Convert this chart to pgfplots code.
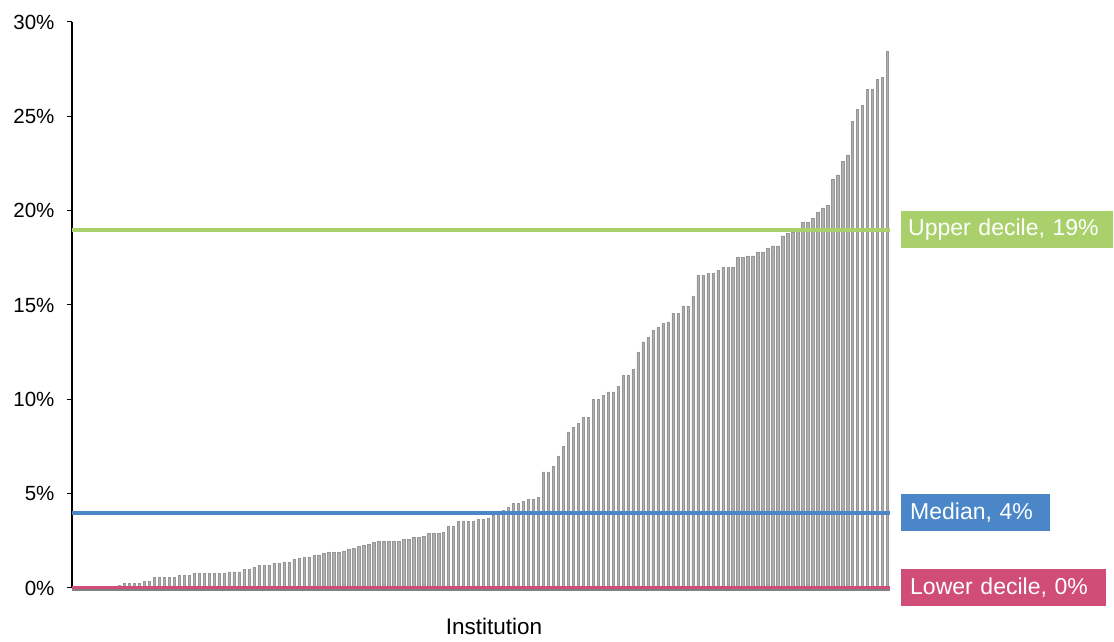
\documentclass[border=0pt]{standalone}
\usepackage{pgfplots}
\pgfplotsset{compat=1.18}
\usepackage{pgfplotstable}
\usepackage{fontspec}
\setmainfont{Liberation Sans}
\definecolor{upper}{RGB}{169,208,107}
\definecolor{med}{RGB}{74,134,200}
\definecolor{lower}{RGB}{208,77,120}
\definecolor{barfill}{RGB}{175,175,175}
\definecolor{baredge}{RGB}{150,150,150}
\definecolor{axgray}{RGB}{128,128,128}
\pgfplotstableread{
x y
1 0
2 0
3 0
4 0
5 0
6 0
7 0
8 0
9 0
10 0.12
11 0.23
12 0.23
13 0.23
14 0.23
15 0.34
16 0.34
17 0.55
18 0.55
19 0.55
20 0.55
21 0.55
22 0.65
23 0.65
24 0.65
25 0.76
26 0.76
27 0.76
28 0.76
29 0.76
30 0.76
31 0.76
32 0.86
33 0.86
34 0.86
35 0.97
36 0.97
37 1.08
38 1.18
39 1.18
40 1.18
41 1.31
42 1.31
43 1.39
44 1.39
45 1.52
46 1.56
47 1.61
48 1.65
49 1.72
50 1.76
51 1.82
52 1.88
53 1.92
54 1.92
55 1.96
56 2.03
57 2.10
58 2.20
59 2.25
60 2.30
61 2.40
62 2.47
63 2.47
64 2.47
65 2.47
66 2.47
67 2.58
68 2.58
69 2.68
70 2.68
71 2.72
72 2.88
73 2.88
74 2.88
75 2.98
76 3.29
77 3.29
78 3.52
79 3.52
80 3.52
81 3.52
82 3.62
83 3.64
84 3.72
85 3.83
86 3.96
87 4.10
88 4.27
89 4.48
90 4.48
91 4.58
92 4.70
93 4.70
94 4.80
95 6.16
96 6.16
97 6.47
98 7.00
99 7.52
100 8.28
101 8.50
102 8.72
103 9.03
104 9.03
105 9.98
106 9.98
107 10.21
108 10.40
109 10.40
110 10.70
111 11.25
112 11.25
113 11.59
114 12.52
115 13.05
116 13.27
117 13.67
118 13.80
119 14.03
120 14.11
121 14.56
122 14.56
123 14.96
124 14.96
125 15.49
126 16.57
127 16.57
128 16.66
129 16.66
130 16.85
131 17.00
132 17.00
133 17.00
134 17.52
135 17.52
136 17.61
137 17.61
138 17.82
139 17.82
140 18.03
141 18.14
142 18.14
143 18.67
144 18.80
145 18.88
146 19.09
147 19.41
148 19.41
149 19.62
150 19.94
151 20.15
152 20.28
153 21.67
154 21.90
155 22.60
156 22.96
157 24.75
158 25.37
159 25.58
160 26.43
161 26.43
162 26.96
163 27.06
164 28.43
}\rates

\begin{document}
\begin{tikzpicture}
\path[use as bounding box] (-72pt,-54pt) rectangle (1042pt,588pt);
\begin{axis}[
  at={(0pt,0pt)}, anchor=south west,
  scale only axis, width=818pt, height=566pt,
  xmin=0.5, xmax=164.5, ymin=0, ymax=30,
  clip=false,
  axis x line*=bottom, axis y line*=left,
  x axis line style={draw=axgray, line width=2.5pt, yshift=-1.5pt},
  y axis line style={draw=black, line width=2pt},
  xtick=\empty,
  ytick={0,5,10,15,20,25,30},
  yticklabels={0\%,5\%,10\%,15\%,20\%,25\%,30\%},
  tick align=outside,
  major tick length=5pt,
  ytick style={draw=black, line width=1pt},
  yticklabel style={font=\fontsize{20.5}{24}\selectfont, xshift=-9pt},
  xlabel={Institution},
  xlabel style={font=\fontsize{22.5}{27}\selectfont, at={(axis description cs:0.516,0)}, anchor=base, yshift=-47pt},
]
\addplot[ybar, bar width=2.3pt, fill=barfill, draw=baredge, line width=0.5pt] table {\rates};
\addplot[upper, line width=4pt] coordinates {(0.5,19) (164.5,19)};
\addplot[med, line width=4pt] coordinates {(0.5,4) (164.5,4)};
\addplot[lower, line width=3pt] coordinates {(0.5,0) (164.5,0)};
\node[fill=upper, text=white, anchor=west, inner xsep=7pt, minimum height=37pt, text width=198pt, align=left, font=\fontsize{23}{27}\selectfont] at ([xshift=11pt]axis cs:164.5,19) {Upper decile, 19\%};
\node[fill=med, text=white, anchor=west, inner xsep=9pt, minimum height=37pt, text width=131pt, align=left, font=\fontsize{23}{27}\selectfont] at ([xshift=11pt]axis cs:164.5,4) {Median, 4\%};
\node[fill=lower, text=white, anchor=west, inner xsep=9pt, minimum height=37pt, text width=187pt, align=left, font=\fontsize{23}{27}\selectfont] at ([xshift=11pt]axis cs:164.5,0) {Lower decile, 0\%};
\end{axis}
\end{tikzpicture}
\end{document}
